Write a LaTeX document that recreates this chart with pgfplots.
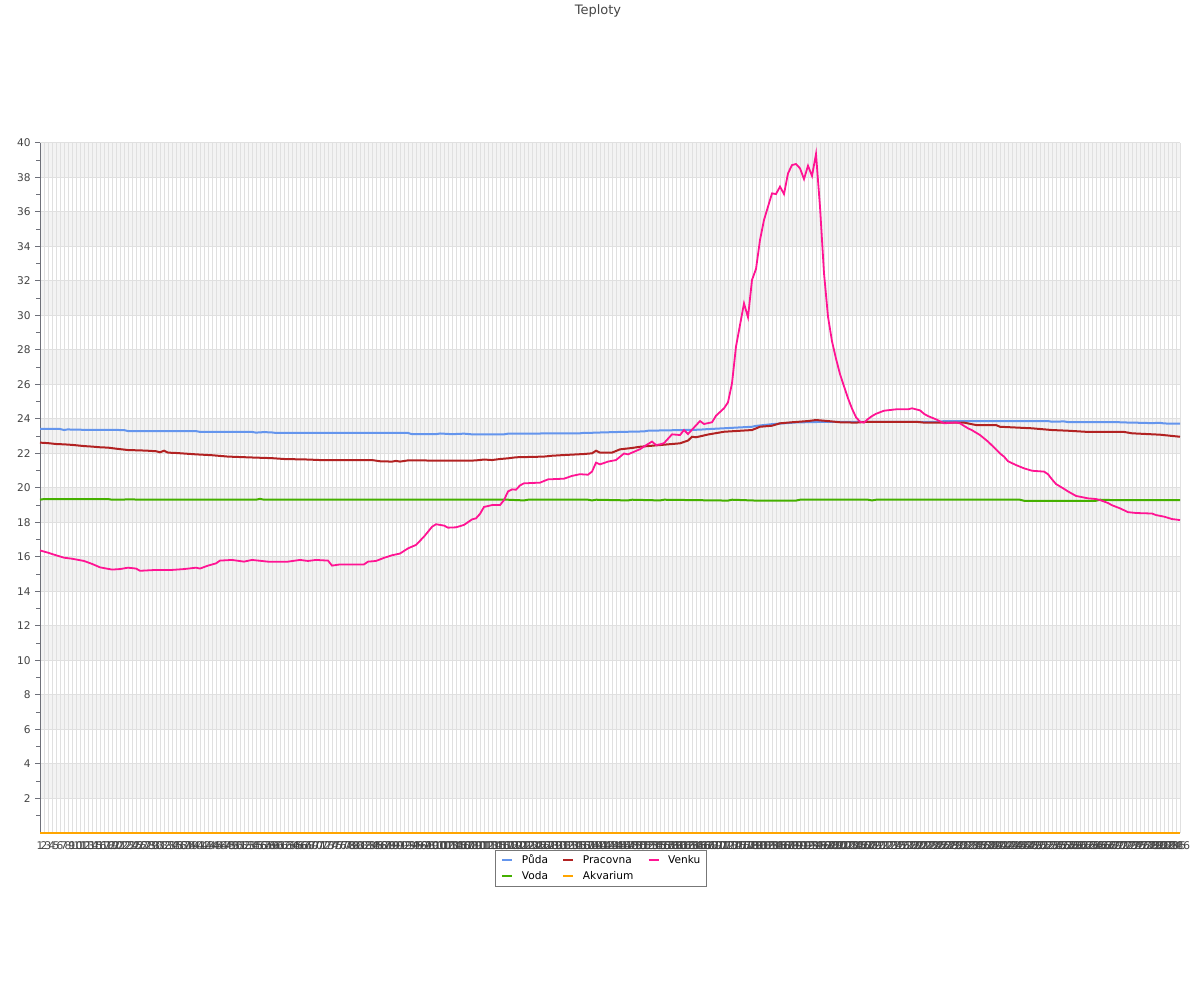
\documentclass[border=0pt]{standalone}
\usepackage{pgfplots}
\pgfplotsset{compat=1.18}
\usepackage{fontspec}
\setmainfont{DejaVu Sans}
\definecolor{puda}{HTML}{6495ED}
\definecolor{pracovna}{HTML}{B22222}
\definecolor{venku}{HTML}{FF1493}
\definecolor{voda}{HTML}{45B000}
\definecolor{akvarium}{HTML}{FFA500}
\definecolor{gridgray}{HTML}{E0E0E0}
\definecolor{bandgray}{HTML}{F3F3F3}
\definecolor{axisgray}{HTML}{6E7079}
\definecolor{labelgray}{HTML}{444444}
\definecolor{titlegray}{HTML}{464646}
\definecolor{legendgray}{HTML}{777777}
\begin{document}
\begin{tikzpicture}[x=1pt,y=1pt]
\begin{axis}[
  at={(20pt,83.5pt)}, anchor=south west,
  width=570pt, height=345pt, scale only axis,
  xmin=1, xmax=286, ymin=0, ymax=40,
  clip=false,
  set layers,
  axis x line=bottom, axis y line=left,
  axis line style={draw=axisgray, -, line width=0.5pt},
  ytick={2,4,...,40}, minor ytick={1,3,...,39},
  xtick={1,...,286},
  x tick style={draw=none},
  y tick style={draw=axisgray, line width=0.5pt},
  tick align=outside, major tick length=2.5pt, minor tick length=2pt,
  ymajorgrids, xmajorgrids,
  major grid style={draw=gridgray, line width=0.5pt},
  /pgf/number format/assume math mode=true,
  ticklabel style={font=\fontsize{5.3}{6}\selectfont, text=labelgray},
  xticklabel style={anchor=north, inner sep=0pt, yshift=-1.6pt},
  yticklabel style={anchor=east, inner sep=0pt, xshift=-2pt},
  legend style={at={(0.4921,-0.051)}, anchor=center, draw=legendgray, line width=0.5pt,
    font=\fontsize{5.3}{6}\selectfont, inner xsep=3pt, inner ysep=2.4pt,
    nodes={inner sep=0pt, text height=4pt, text depth=1.1pt},
    row sep=2.9pt,
    /tikz/every odd column/.append style={column sep=4.3pt},
    /tikz/every even column/.append style={column sep=7.2pt}},
  legend columns=3,
  legend cell align=left,
  legend image code/.code={\draw[#1, line width=0.9pt] (0pt,0pt) -- (5pt,0pt);},
]
\begin{pgfonlayer}{axis background}
\pgfplotsinvokeforeach{2,6,...,38}{\fill[bandgray] (axis cs:1,#1) rectangle (axis cs:286,\the\numexpr#1+2\relax);}
\end{pgfonlayer}

% Akvarium
\addplot[akvarium, line width=1pt, forget plot] coordinates {(1,0) (286,0)};
% Voda
\addplot[voda, line width=1pt, forget plot] coordinates {
(1,19.32)(2,19.36)(18,19.36)(19,19.32)(24,19.34)(26,19.32)(55,19.32)(56,19.37)(57,19.32)(118,19.32)(122,19.28)(123,19.32)(138,19.32)(139,19.28)(140,19.32)(148,19.28)(149,19.32)(156,19.28)(157,19.32)(173,19.27)(174,19.32)(180,19.27)(190,19.27)(191,19.32)(208,19.32)(209,19.28)(210,19.32)(246,19.32)(247,19.26)(265,19.26)(266,19.32)(269,19.3)(286,19.3)};
% Puda
\addplot[puda, line width=1pt, forget plot] coordinates {
(1,23.42)(6,23.42)(7,23.36)(8,23.4)(9,23.38)(22,23.36)(23,23.3)(40,23.3)(41,23.25)(54,23.25)(55,23.21)(57,23.24)(59,23.22)(60,23.19)(93,23.19)(94,23.12)(100,23.12)(101,23.16)(104,23.12)(107,23.15)(109,23.11)(117,23.11)(118,23.15)(136,23.17)(137,23.2)(139,23.2)(140,23.21)(146,23.25)(152,23.28)(153,23.32)(166,23.38)(167,23.4)(179,23.55)(180,23.6)(184,23.7)(190,23.8)(198,23.84)(226,23.84)(227,23.88)(253,23.88)(254,23.84)(257,23.86)(258,23.82)(270,23.82)(272,23.8)(276,23.78)(279,23.76)(281,23.78)(282,23.74)(286,23.73)};
% Pracovna
\addplot[pracovna, line width=1pt, forget plot] coordinates {
(1,22.63)(3,22.6)(5,22.55)(7,22.53)(9,22.5)(12,22.43)(14,22.4)(16,22.36)(18,22.34)(20,22.28)(23,22.2)(26,22.18)(28,22.16)(30,22.13)(31,22.07)(32,22.16)(33,22.05)(35,22.03)(40,21.95)(44,21.9)(48,21.82)(55,21.76)(59,21.73)(62,21.68)(68,21.65)(71,21.62)(84,21.62)(86,21.55)(89,21.53)(90,21.57)(91,21.53)(93,21.6)(108,21.58)(110,21.6)(112,21.65)(114,21.62)(116,21.68)(118,21.72)(120,21.78)(127,21.82)(129,21.87)(132,21.91)(137,21.97)(139,22.01)(140,22.16)(141,22.05)(144,22.05)(146,22.24)(149,22.32)(151,22.39)(156,22.49)(161,22.59)(163,22.75)(164,22.97)(165,22.94)(168,23.1)(172,23.26)(179,23.36)(181,23.55)(184,23.61)(186,23.75)(189,23.81)(193,23.88)(195,23.94)(198,23.88)(201,23.81)(205,23.79)(208,23.84)(220,23.84)(222,23.79)(232,23.79)(235,23.65)(240,23.65)(241,23.55)(249,23.46)(254,23.36)(258,23.32)(263,23.25)(272,23.25)(274,23.17)(281,23.09)(286,22.97)};
% Venku
\addplot[venku, line width=0.9pt, forget plot] coordinates {
(1,16.38)(3,16.25)(5,16.1)(7,15.96)(9,15.9)(12,15.77)(14,15.6)(16,15.4)(19,15.27)(21,15.3)(23,15.38)(25,15.33)(26,15.2)(30,15.25)(34,15.25)(37,15.3)(40,15.38)(41,15.33)(43,15.5)(45,15.63)(46,15.79)(49,15.83)(52,15.73)(54,15.83)(56,15.78)(58,15.73)(63,15.73)(66,15.83)(68,15.77)(70,15.83)(73,15.79)(74,15.5)(76,15.57)(82,15.57)(83,15.73)(85,15.77)(87,15.95)(89,16.1)(91,16.2)(93,16.5)(95,16.7)(97,17.18)(99,17.75)(100,17.9)(102,17.82)(103,17.7)(105,17.72)(107,17.86)(109,18.18)(110,18.24)(111,18.5)(112,18.9)(114,19.01)(116,19.01)(117,19.3)(118,19.8)(119,19.92)(120,19.9)(121,20.15)(122,20.27)(126,20.31)(128,20.5)(132,20.54)(134,20.7)(136,20.8)(138,20.77)(139,20.95)(140,21.47)(141,21.37)(143,21.53)(145,21.62)(147,22.0)(148,21.95)(149,22.05)(151,22.25)(153,22.55)(154,22.69)(155,22.49)(156,22.53)(157,22.6)(159,23.11)(161,23.07)(162,23.36)(163,23.13)(166,23.88)(167,23.71)(169,23.81)(170,24.19)(172,24.62)(173,24.97)(174,26.07)(175,28.2)(176,29.45)(177,30.7)(178,29.9)(179,32.06)(180,32.7)(181,34.38)(182,35.54)(184,37.08)(185,37.04)(186,37.47)(187,37.04)(188,38.24)(189,38.72)(190,38.78)(191,38.53)(192,37.91)(193,38.68)(194,38.09)(195,39.36)(196,36.3)(197,32.45)(198,29.93)(199,28.5)(200,27.5)(201,26.6)(202,25.9)(203,25.2)(204,24.6)(205,24.1)(206,23.84)(207,23.79)(208,24.0)(209,24.17)(210,24.3)(212,24.48)(215,24.56)(218,24.56)(219,24.62)(221,24.5)(222,24.3)(223,24.17)(225,23.98)(227,23.75)(230,23.8)(231,23.75)(232,23.6)(233,23.46)(234,23.35)(236,23.07)(238,22.69)(240,22.24)(241,22.0)(242,21.82)(243,21.55)(245,21.33)(247,21.14)(249,21.0)(252,20.95)(253,20.8)(254,20.5)(255,20.23)(257,19.95)(258,19.8)(260,19.54)(263,19.4)(265,19.36)(266,19.3)(268,19.13)(269,19.0)(271,18.82)(273,18.6)(275,18.55)(279,18.52)(280,18.43)(282,18.34)(284,18.2)(286,18.14)};

\addlegendimage{puda}
\addlegendimage{pracovna}
\addlegendimage{venku}
\addlegendimage{voda}
\addlegendimage{akvarium}
\legend{Půda,Pracovna,Venku,Voda,Akvarium}
\end{axis}
\node[font=\fontsize{6.5}{7.5}\selectfont, text=titlegray] at (299,494.5) {Teploty};
\pgfresetboundingbox
\path[use as bounding box] (0,0) rectangle (600,500);
\end{tikzpicture}
\end{document}
